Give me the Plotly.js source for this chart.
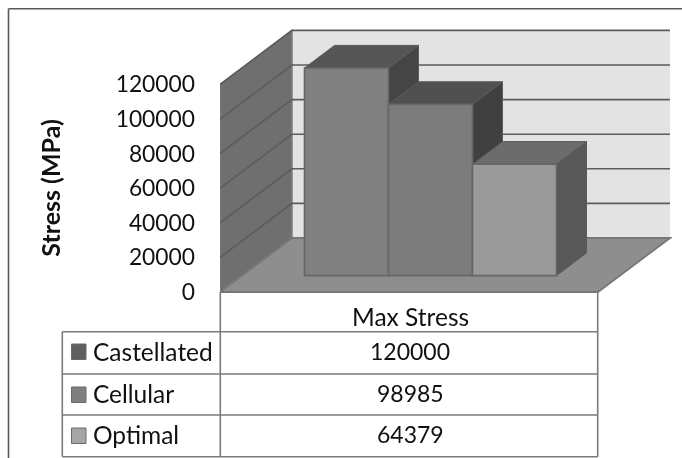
<!DOCTYPE html>
<html>
<head>
<meta charset="utf-8">
<script src="https://cdn.plot.ly/plotly-3.0.1.min.js"></script>
<style>html,body{margin:0;padding:0;background:#fff;overflow:hidden}#chart{width:682px;height:458px;filter:blur(0.45px)}</style>
</head>
<body>
<div id="chart"></div>
<script>
// ---- data ----
var categories = ["Max Stress"];
var seriesNames = ["Castellated", "Cellular", "Optimal"];
var castellated = [120000];
var cellular = [98985];
var optimal = [64379];
var tickValues = [0, 20000, 40000, 60000, 80000, 100000, 120000];
var yTitle = "Stress (MPa)";

// ---- styles ----
var FONT = "Lato, sans-serif";
var TEXT = "#111111";
var LINE = "#666666";
var frontColors = ["#808080", "#7c7c7c", "#9a9a9a"];
var topColors = ["#555555", "#505050", "#6c6c6c"];
var sideColors = ["#454545", "#404040", "#585858"];
var keyColors = ["#5f5f5f", "#7f7f7f", "#a5a5a5"];

// ---- layout geometry (pixels) ----
var W = 682, H = 458;
var plotL = 220, plotR = 672, plotT = 29, plotB = 347;
var zeroY = 292, pxPerUnit = 0.00173, pxPerSlot = 84;
function dataY(px) { return (zeroY - px) / pxPerUnit; }
var xSpan = (plotR - plotL) / pxPerSlot;
var ySpan = [dataY(plotB), dataY(plotT)];
var floorW = 378 / pxPerSlot;
var wallDX = 72 / pxPerSlot, wallDY = 54 / pxPerUnit;
var barDX = 30 / pxPerSlot, barDY = 22.6 / pxPerUnit;
var barStart = 84.5 / pxPerSlot, barBase = 16.4 / pxPerUnit;
var axisTop = tickValues[tickValues.length - 1];

function poly(pts) {
  return "M" + pts.map(function (p) { return p[0].toFixed(4) + "," + p[1].toFixed(1); }).join("L") + "Z";
}
function dataShape(pts, fill, line, w) {
  return {type: "path", xref: "x", yref: "y", layer: "below", path: poly(pts),
          fillcolor: fill, line: {color: line || fill, width: w === undefined ? 1.5 : w}};
}
function px(x) { return (x - plotL) / (plotR - plotL); }
function py(y) { return (plotB - y) / (plotB - plotT); }
function paperLine(x0, y0, x1, y1, c, w) {
  return {type: "line", xref: "paper", yref: "paper", layer: "above",
          x0: px(x0), x1: px(x1), y0: py(y0), y1: py(y1), line: {color: c || "#7a7a7a", width: w || 1.6}};
}

var shapes = [];
// walls and floor of the 3D box
shapes.push(dataShape([[wallDX, wallDY], [wallDX, axisTop + wallDY], [wallDX + floorW, axisTop + wallDY], [wallDX + floorW, wallDY]], "#e3e3e3", "#e3e3e3", 0));
shapes.push(dataShape([[0, 0], [0, axisTop], [wallDX, axisTop + wallDY], [wallDX, wallDY]], "#6f6f6f", "#7d7d7d"));
shapes.push(dataShape([[0, 0], [floorW, 0], [floorW + wallDX, wallDY], [wallDX, wallDY]], "#8e8e8e", "#777777", 1.8));
// gridlines following the left wall and back wall
tickValues.forEach(function (t, i) {
  if (i > 0) {
    shapes.push({type: "path", xref: "x", yref: "y", layer: "below",
      path: "M0," + t + "L" + wallDX.toFixed(4) + "," + (t + wallDY).toFixed(1) + "L" + (wallDX + floorW).toFixed(4) + "," + (t + wallDY).toFixed(1),
      line: {color: "#5c5c5c", width: 1.6}});
  }
});
// depth faces of the bars, painted behind the front faces
var allValues = [castellated, cellular, optimal];
allValues.forEach(function (vals, i) {
  var v = vals[0];
  var l = barStart + i, r = l + 1, b = barBase, t = barBase + v;
  shapes.push(dataShape([[r, b], [r, t], [r + barDX, t + barDY], [r + barDX, b + barDY]], sideColors[i], "#5a5a5a", 1));
  shapes.push(dataShape([[l, t], [r, t], [r + barDX, t + barDY], [l + barDX, t + barDY]], topColors[i], "#5a5a5a", 1));
});

// data table
var tableRows = [331.7, 374, 415, 456.7];
var tableL = 62.3, tableM = 220.3, tableR = 597.7;
tableRows.forEach(function (y) { shapes.push(paperLine(tableL, y, tableR, y)); });
shapes.push(paperLine(tableL, tableRows[0], tableL, tableRows[3]));
shapes.push(paperLine(tableM, 292, tableM, tableRows[3]));
shapes.push(paperLine(tableR, 292, tableR, tableRows[3]));
// outer frame
shapes.push(paperLine(8.5, 8.7, 690, 8.7, "#5a5a5a", 1.6));
shapes.push(paperLine(8.5, 8.7, 8.5, 470, "#5a5a5a", 1.6));

var labelY = [351, 393, 434], keyTop = [344, 387, 428];
var annotations = [];
function label(text, x, y, anchor, size) {
  annotations.push({text: text, xref: "paper", yref: "paper", x: px(x), y: py(y), xanchor: anchor, yanchor: "middle",
    showarrow: false, font: {family: FONT, size: size, color: TEXT}});
}
label(categories[0], 410, 316, "center", 24.5);
seriesNames.forEach(function (name, i) {
  label(name, 91, labelY[i], "left", 24.5);
  label(String(allValues[i][0]), 410, labelY[i], "center", 23);
});
seriesNames.forEach(function (name, i) {
  shapes.push({type: "rect", xref: "paper", yref: "paper", layer: "above",
    x0: px(71.5), x1: px(86), y0: py(keyTop[i]), y1: py(keyTop[i] + 15.5),
    fillcolor: keyColors[i], line: {color: "#6a6a6a", width: 1}});
});

var traces = seriesNames.map(function (name, i) {
  return {type: "bar", name: name, x: [barStart + i + 0.5], y: allValues[i], base: barBase, width: 1,
    marker: {color: frontColors[i], line: {color: LINE, width: 1.6}}, cliponaxis: false};
});

Plotly.newPlot("chart", traces, {
  width: W, height: H, autosize: false,
  margin: {l: plotL, r: W - plotR, t: plotT, b: H - plotB, pad: 0},
  paper_bgcolor: "#ffffff", plot_bgcolor: "#ffffff",
  barmode: "overlay", showlegend: false,
  xaxis: {range: [0, xSpan], visible: false, fixedrange: true},
  yaxis: {range: ySpan, tickmode: "array", tickvals: tickValues, ticktext: tickValues.map(String),
    showgrid: false, zeroline: false, showline: false, ticks: "", ticklabelstandoff: 24,
    tickfont: {family: FONT, size: 22.8, color: TEXT}, fixedrange: true,
    title: {text: "<b>" + yTitle + "</b>", standoff: 47, font: {family: FONT, size: 25, color: TEXT}}},
  shapes: shapes, annotations: annotations
}, {displayModeBar: false, staticPlot: true});
</script>
</body>
</html>
